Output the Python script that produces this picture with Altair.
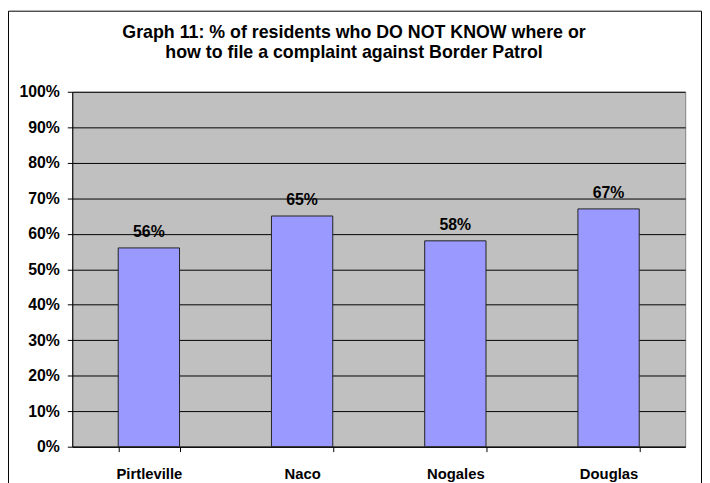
import altair as alt
import pandas as pd

towns = ["Pirtleville", "Naco", "Nogales", "Douglas"]
pct = [0.56, 0.65, 0.58, 0.67]
labels = ["56%", "65%", "58%", "67%"]
y_ticks = [0.0, 0.1, 0.2, 0.3, 0.4, 0.5, 0.6, 0.7, 0.8, 0.9, 1.0]
title_lines = ["Graph 11: % of residents who DO NOT KNOW where or",
               "how to file a complaint against Border Patrol"]

df = pd.DataFrame({"town": towns, "pct": pct, "label": labels})
FONT = "Liberation Sans"

x = alt.X("town:N", sort=towns, title=None,
          scale=alt.Scale(paddingInner=0.6, paddingOuter=0.3),
          axis=alt.Axis(labelAngle=0, labelFont=FONT, labelFontSize=15,
                        labelFontWeight="bold", labelColor="black",
                        tickBand="extent", tickColor="black", tickSize=5,
                        domainColor="black", labelPadding=15, grid=False))
y = alt.Y("pct:Q", title=None,
          scale=alt.Scale(domain=[0, 1], nice=False),
          axis=alt.Axis(values=y_ticks, format=".0%", labelFont=FONT,
                        labelFontSize=16, labelFontWeight="bold",
                        labelColor="black", tickColor="black", tickSize=5,
                        labelPadding=8, domainColor="black", grid=True,
                        labelOverlap=False,
                        gridColor="black", gridOpacity=1, gridWidth=1))

base = alt.Chart(df)
bars = base.mark_bar(color="#9999FF", stroke="#222222", strokeWidth=1).encode(x=x, y=y)
text = base.mark_text(dy=-11, baseline="alphabetic", font=FONT, fontSize=16,
                      fontWeight="bold", color="black").encode(
    x=x, y=y, text="label:N")

frame = alt.Chart(pd.DataFrame({"f": [0]})).mark_rect(
    fillOpacity=0, stroke="black", strokeWidth=1).encode(
    x=alt.value(-64.5), x2=alt.value(636.5), y=alt.value(-81.5), y2=alt.value(420))

chart = alt.layer(bars, text, frame).properties(
    width=620, height=359,
    title=alt.TitleParams(title_lines, font=FONT, fontSize=18, fontWeight="bold",
                          color="black", anchor="middle", frame="group",
                          dx=-25, offset=-52, lineHeight=20),
    autosize=alt.AutoSizeParams(type="none"),
    padding={"left": 65, "top": 82, "right": 17, "bottom": 34},
    background="white",
).configure_view(fill="#C0C0C0", stroke="#808080", strokeWidth=1)

chart.save("out.html", embed_options={"renderer": "svg", "actions": False})
